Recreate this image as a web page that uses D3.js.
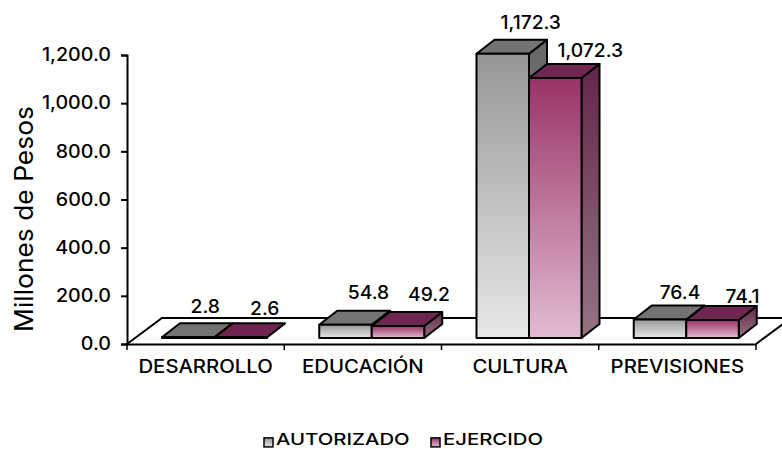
<!DOCTYPE html>
<html><head><meta charset="utf-8">
<script src="https://cdn.jsdelivr.net/npm/d3@7/dist/d3.min.js"></script>
<style>
html,body{margin:0;padding:0;background:#fff}
text{font-family:Inter,"Open Sans",sans-serif;fill:#000}
</style></head><body>
<svg id="c" width="782" height="449"></svg>
<script>
const categories = ["DESARROLLO","EDUCACIÓN","CULTURA","PREVISIONES"];
const seriesNames = ["AUTORIZADO","EJERCIDO"];
const autorizado = [2.8,54.8,1172.3,76.4];
const ejercido = [2.6,49.2,1072.3,74.1];
const yTicks = [0,200,400,600,800,1000,1200];
const labelText = [["2.8","54.8","1,172.3","76.4"],["2.6","49.2","1,072.3","74.1"]];

const svg = d3.select("#c");
const W=782,H=449;
const x = d3.scaleBand().domain(categories).range([127,756]);
const inner = d3.scaleBand().domain(seriesNames).range([35,140]);
const y = d3.scaleLinear().domain([0,1200]).range([344,55]);
// bars stand on the floor, a little behind the front edge of the axis
const yBar = d3.scaleLinear().domain([0,1200]).range([338,47]);
const depth = {dx:18,dy:-14};
const floor = {dx:35,dy:-26};

// the reference face is a wide geometric sans: widen glyphs to its measured widths
function widen(sel,k){
  sel.attr("lengthAdjust","spacingAndGlyphs")
     .attr("textLength",function(){return this.getComputedTextLength()*k;});
}

const defs = svg.append("defs");
function grad(id,a,b){
  const g=defs.append("linearGradient").attr("id",id).attr("x1",0).attr("y1",0).attr("x2",0).attr("y2",1);
  g.append("stop").attr("offset",0).attr("stop-color",a);
  g.append("stop").attr("offset",1).attr("stop-color",b);
}
grad("f0","#979797","#e8e8e8");
grad("f1","#993366","#e2bcd1");
grad("s0","#666666","#8c8c8c");
grad("s1","#64264a","#957585");
const topFill=["#737373","#6e2650"];

// floor
svg.append("path")
  .attr("d",`M${x.range()[0]},${y(0)}L${x.range()[0]+floor.dx},${y(0)+floor.dy}L${W+12},${y(0)+floor.dy}`)
  .attr("fill","none").attr("stroke","#000").attr("stroke-width",2);
svg.append("path")
  .attr("d",`M${x.range()[1]},${y(0)}L${x.range()[1]+floor.dx},${y(0)+floor.dy}`)
  .attr("fill","none").attr("stroke","#000").attr("stroke-width",2);

// axes
const gy = svg.append("g").attr("transform",`translate(${x.range()[0]},0)`)
  .call(d3.axisLeft(y).tickValues(yTicks).tickFormat(d3.format(",.1f")).tickSize(6).tickPadding(10));
gy.selectAll("text").style("font-size","18px").style("font-weight",500).call(widen,1.09);
const gx = svg.append("g").attr("transform",`translate(0,${y(0)})`)
  .call(d3.axisBottom(x).tickSize(0).tickPadding(16));
gx.selectAll("text").style("font-size","18px").style("font-weight",500).call(widen,1.13);
svg.selectAll(".domain").attr("stroke","#000").attr("stroke-width",2);
svg.selectAll(".tick line").attr("stroke","#000").attr("stroke-width",2);
gx.selectAll("line.edge").data([...categories.map(c=>x(c)),x.range()[1]]).join("line")
  .attr("class","edge").attr("x1",d=>d).attr("x2",d=>d).attr("y1",0).attr("y2",6)
  .attr("stroke","#000").attr("stroke-width",1.5);

// bars
const rows = categories.flatMap((c,i)=>[
  {c,s:0,name:seriesNames[0],v:autorizado[i],i},
  {c,s:1,name:seriesNames[1],v:ejercido[i],i}]);
const bars = svg.append("g").selectAll("g").data(rows).join("g")
  .attr("stroke","#000").attr("stroke-width",2).attr("stroke-linejoin","round");
const bx = d=>x(d.c)+inner(d.name), bw=inner.bandwidth();
bars.append("path").attr("fill",d=>`url(#s${d.s})`)
  .attr("d",d=>{const r=bx(d)+bw,t=yBar(d.v),b=yBar(0);
    return `M${r},${t}L${r+depth.dx},${t+depth.dy}L${r+depth.dx},${b+depth.dy}L${r},${b}Z`;})
  .attr("display",d=>d.v<5?"none":null);
bars.append("path").attr("fill",d=>topFill[d.s])
  .attr("d",d=>{const l=bx(d),r=l+bw,t=yBar(d.v);
    return `M${l},${t}L${l+depth.dx},${t+depth.dy}L${r+depth.dx},${t+depth.dy}L${r},${t}Z`;});
bars.append("rect").attr("fill",d=>`url(#f${d.s})`)
  .attr("x",bx).attr("width",bw).attr("y",d=>yBar(d.v)).attr("height",d=>yBar(0)-yBar(d.v));

// value labels
const nudgeX=[[17,23,28,20],[24,31,35,30]];
const nudgeY=[[-17,-18,-17,-13],[-15,-17,-13,-9]];
svg.append("g").selectAll("text").data(rows).join("text")
  .attr("x",d=>bx(d)+bw/2+nudgeX[d.s][d.i])
  .attr("y",d=>yBar(d.v)+depth.dy+nudgeY[d.s][d.i])
  .attr("dy","0.35em").attr("text-anchor","middle")
  .style("font-size","18px").style("font-weight",500)
  .text(d=>labelText[d.s][d.i]).call(widen,1.07);

// axis title
svg.append("text").attr("transform","translate(24,219) rotate(-90)").attr("text-anchor","middle")
  .attr("dy","0.35em").style("font-size","25px").style("font-weight",400)
  .text("Millones de Pesos").call(widen,1.055);

// legend
const lx = d3.scaleOrdinal().domain(seriesNames).range([263,430]);
const leg = svg.append("g").selectAll("g").data(seriesNames).join("g")
  .attr("transform",d=>`translate(${lx(d)},439.4)`);
leg.append("rect").attr("x",1).attr("y",-1.5).attr("width",9).attr("height",9)
  .attr("fill",(d,i)=>`url(#f${i})`).attr("stroke","#000").attr("stroke-width",1.5);
leg.append("text").attr("x",13).attr("dy","0.35em")
  .style("font-size","16px").style("font-weight",500).text(d=>d).call(widen,1.27);
</script>
</body></html>
